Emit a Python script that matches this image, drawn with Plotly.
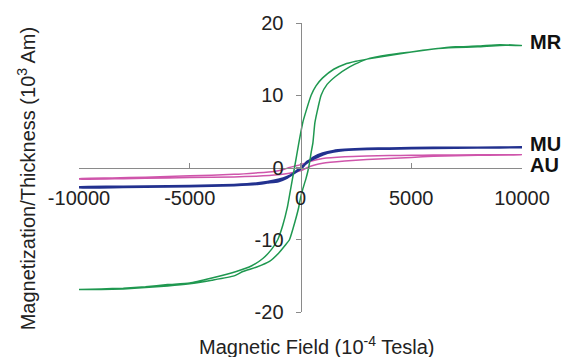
import plotly.graph_objects as go

# ---- data (field in 1e-4 Tesla, magnetization/thickness in 1e3 Am) ----
mr_field_desc = [10000, 9000, 8000, 7000, 6000, 5000, 4000, 3000, 2500, 2000, 1500, 1000, 700, 480, 250, 100,
                 -75, -270, -470, -600, -800, -1030, -1300, -1700, -2200, -2900, -4000, -5000, -6000, -7000,
                 -8000, -9000, -10000]
mr_desc = [16.9, 17.0, 16.8, 16.7, 16.4, 16.0, 15.5, 15.0, 14.7, 14.3, 13.6, 12.4, 11.3, 10.0, 7.8, 6.2,
           3.4, 0.0, -3.4, -5.6, -8.0, -10.0, -11.3, -12.6, -13.6, -14.4, -15.3, -16.0, -16.2, -16.5,
           -16.7, -16.8, -16.9]
mr_field_asc = [-10000, -9000, -8000, -7000, -6000, -5000, -4000, -3000, -2600, -2000, -1400, -1000, -700, -500,
                -250, -80, 0, 100, 250, 370, 480, 560, 650, 800, 930, 1200, 1580, 2200, 3000, 4000, 5000,
                6000, 7000, 8000, 9000, 10000]
mr_asc = [-16.9, -16.9, -16.8, -16.6, -16.4, -16.1, -15.6, -15.0, -14.4, -13.8, -13.0, -11.9, -10.8, -10.0,
          -7.5, -5.5, -4.2, -3.0, -1.5, 0.0, 2.05, 3.4, 6.2, 8.4, 10.0, 11.5, 12.6, 13.9, 15.0, 15.6, 16.0,
          16.4, 16.6, 16.7, 16.9, 16.9]

mu_field_desc = [10000, 8000, 6000, 4000, 3000, 2000, 1500, 1000, 600, 300, 100, -100, -300, -600, -1000,
                 -1500, -2000, -3000, -4000, -6000, -8000, -10000]
mu_desc = [2.8, 2.75, 2.75, 2.65, 2.6, 2.45, 2.3, 1.95, 1.4, 0.7, 0.2, -0.3, -0.8, -1.3, -1.7,
           -2.0, -2.2, -2.4, -2.5, -2.6, -2.65, -2.7]
mu_field_asc = [-10000, -8000, -6000, -4000, -3000, -2000, -1500, -1000, -600, -300, -100, 100, 300, 500,
                800, 1000, 1500, 2000, 3000, 4000, 6000, 8000, 10000]
mu_asc = [-2.75, -2.7, -2.65, -2.55, -2.45, -2.3, -2.1, -1.9, -1.4, -0.8, -0.4, 0.1, 0.8, 1.1,
          1.5, 1.8, 2.2, 2.4, 2.55, 2.6, 2.7, 2.75, 2.8]

au_field_desc = [10000, 8000, 6000, 5000, 4000, 3000, 2000, 1000, 500, 200, 0, -250, -500, -800, -1200,
                 -2000, -3000, -5000, -7000, -8500, -10000]
au_desc = [1.75, 1.75, 1.72, 1.7, 1.65, 1.6, 1.5, 1.25, 0.9, 0.6, 0.4, 0.2, 0.0, -0.3, -0.55,
           -0.75, -0.95, -1.15, -1.35, -1.45, -1.55]
au_field_asc = [-10000, -8000, -6000, -5000, -3000, -2000, -1000, -500, 0, 320, 600, 1000, 2000, 3000,
                4000, 5000, 6000, 8000, 10000]
au_asc = [-1.6, -1.55, -1.45, -1.4, -1.3, -1.2, -1.0, -0.8, -0.45, 0.0, 0.3, 0.6, 0.9, 1.1,
          1.25, 1.4, 1.55, 1.7, 1.75]

x_ticks = [-10000, -5000, 0, 5000, 10000]
x_tick_text = ["-10000", "-5000", "0", "5000", "10000"]
y_ticks = [-20, -10, 0, 10, 20]
y_tick_text = ["-20", "-10", "0", "10", "20"]

series = [
    ("AU", au_field_desc, au_desc, au_field_asc, au_asc, "#cf55ab", 1.5),
    ("MU", mu_field_desc, mu_desc, mu_field_asc, mu_asc, "#22318f", 2.4),
    ("MR", mr_field_desc, mr_desc, mr_field_asc, mr_asc, "#1f9850", 1.5),
]
label_y = {"MR": 17.4, "MU": 3.3, "AU": 0.3}

FONT = "Arial, Liberation Sans, sans-serif"
FS = 20
fig = go.Figure()
for name, fd, vd, fa, va, color, w in series:
    fig.add_trace(go.Scatter(x=fd + fa, y=vd + va, mode="lines", name=name,
                             line=dict(color=color, width=w, shape="spline", smoothing=0.5),
                             showlegend=False, hoverinfo="skip"))
    fig.add_annotation(x=10000, y=label_y[name], xref="x", yref="y", text="<b>%s</b>" % name,
                       showarrow=False, xanchor="left", xshift=6,
                       font=dict(family=FONT, size=FS, color="#111111"))

fig.update_layout(
    width=570, height=357,
    margin=dict(l=79, r=48, t=18, b=45),
    paper_bgcolor="white", plot_bgcolor="white",
    font=dict(family=FONT, size=FS, color="#222222"),
    xaxis=dict(range=[-10000, 10000], tickvals=x_ticks, ticktext=x_tick_text,
               anchor="free", position=0.5, showline=True, linecolor="#8a8a8a", linewidth=1,
               ticks="inside", ticklen=5, tickcolor="#8a8a8a", showgrid=False, zeroline=False,
               ticklabelstandoff=12, tickfont=dict(size=FS, color="#222222")),
    yaxis=dict(range=[-20, 20], tickvals=y_ticks, ticktext=y_tick_text,
               anchor="free", position=0.5, showline=True, linecolor="#8a8a8a", linewidth=1,
               ticks="outside", ticklen=5, tickcolor="#8a8a8a", showgrid=False, zeroline=False,
               ticklabelstandoff=8, tickfont=dict(size=FS, color="#222222")),
    annotations=list(fig.layout.annotations) + [
        dict(text="Magnetic Field (10<sup>-4</sup> Tesla)", xref="paper", yref="paper",
             x=(317 - 79) / 443, y=-(346 - 312) / 294, showarrow=False, xanchor="center", yanchor="middle",
             font=dict(family=FONT, size=FS, color="#222222")),
        dict(text="Magnetization/Thickness (10<sup>3</sup> Am)", xref="paper", yref="paper",
             x=-(79 - 26) / 443, y=(312 - 176) / 294, showarrow=False, textangle=-90,
             xanchor="center", yanchor="middle",
             font=dict(family=FONT, size=FS, color="#222222")),
    ],
)

fig.write_html("out.html")
